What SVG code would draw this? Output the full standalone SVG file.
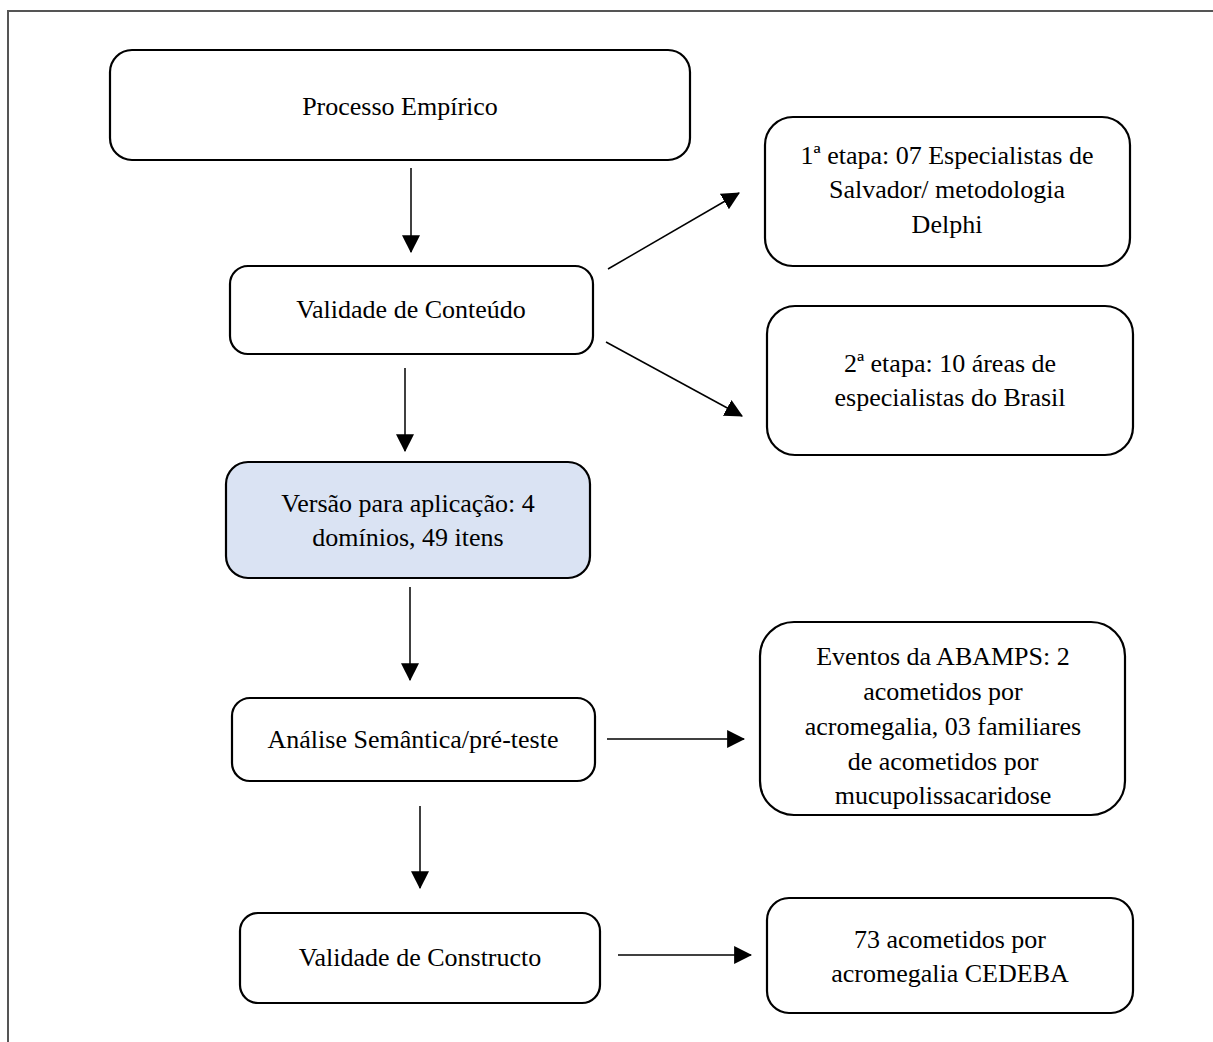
<svg xmlns="http://www.w3.org/2000/svg" width="1213" height="1042" viewBox="0 0 1213 1042">
<style>
.box{fill:#ffffff;stroke:#000;stroke-width:2.2}
.blue{fill:#dae3f3}
.t{font-family:"Liberation Serif","Times New Roman",serif;font-size:26px;fill:#000;text-anchor:middle}
.c{stroke:#000;stroke-width:1.5;fill:none;marker-end:url(#ah)}
</style>
<defs>
<marker id="ah" markerUnits="userSpaceOnUse" markerWidth="18" markerHeight="18" viewBox="0 0 16 16" refX="15" refY="8" orient="auto">
<path d="M0,0 L16,8 L0,16 Z" fill="#000"/>
</marker>
</defs>
<rect width="1213" height="1042" fill="#fff"/>
<g id="frame">
<path d="M8,1042 L8,11 L1213,11" fill="none" stroke="#555" stroke-width="2"/>
</g>
<g id="n1"><rect class="box" x="110" y="50" width="580" height="110" rx="22"/><text class="t" x="400" y="115">Processo Empírico</text></g>
<g id="n2"><rect class="box" x="230" y="266" width="363" height="88" rx="18"/><text class="t" x="411" y="318">Validade de Conteúdo</text></g>
<g id="n3"><rect class="box blue" x="226" y="462" width="364" height="116" rx="22"/><text class="t" x="408" y="512">Versão para aplicação: 4</text><text class="t" x="408" y="546">domínios, 49 itens</text></g>
<g id="n4"><rect class="box" x="232" y="698" width="363" height="83" rx="18"/><text class="t" x="413" y="748">Análise Semântica/pré-teste</text></g>
<g id="n5"><rect class="box" x="240" y="913" width="360" height="90" rx="18"/><text class="t" x="420" y="966">Validade de Constructo</text></g>
<g id="n6"><rect class="box" x="765" y="117" width="365" height="149" rx="28"/><text class="t" x="947" y="164">1ª etapa: 07 Especialistas de</text><text class="t" x="947" y="198">Salvador/ metodologia</text><text class="t" x="947" y="233">Delphi</text></g>
<g id="n7"><rect class="box" x="767" y="306" width="366" height="149" rx="28"/><text class="t" x="950" y="372">2ª etapa: 10 áreas de</text><text class="t" x="950" y="406">especialistas do Brasil</text></g>
<g id="n8"><rect class="box" x="760" y="622" width="365" height="193" rx="34"/><text class="t" x="943" y="665">Eventos da ABAMPS: 2</text><text class="t" x="943" y="700">acometidos por</text><text class="t" x="943" y="735">acromegalia, 03 familiares</text><text class="t" x="943" y="770">de acometidos por</text><text class="t" x="943" y="804">mucupolissacaridose</text></g>
<g id="n9"><rect class="box" x="767" y="898" width="366" height="115" rx="22"/><text class="t" x="950" y="948">73 acometidos por</text><text class="t" x="950" y="982">acromegalia CEDEBA</text></g>
<g id="connectors">
<line class="c" x1="411" y1="168" x2="411" y2="252"/>
<line class="c" x1="405" y1="368" x2="405" y2="451"/>
<line class="c" x1="410" y1="587" x2="410" y2="680"/>
<line class="c" x1="420" y1="806" x2="420" y2="888"/>
<line class="c" x1="608" y1="269" x2="739" y2="193"/>
<line class="c" x1="606" y1="342" x2="742" y2="416"/>
<line class="c" x1="607" y1="739" x2="744" y2="739"/>
<line class="c" x1="618" y1="955" x2="751" y2="955"/>
</g>
</svg>
